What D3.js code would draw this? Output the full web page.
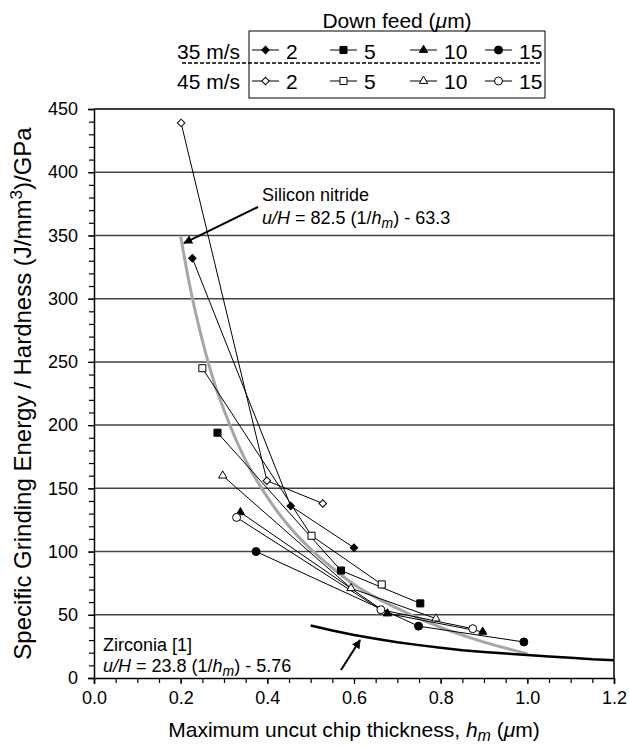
<!DOCTYPE html>
<html><head><meta charset="utf-8">
<script src="https://cdn.jsdelivr.net/npm/d3@7"></script>
<style>body{margin:0;background:#fff} text{font-family:"Liberation Sans",Arial,sans-serif;fill:#000}</style>
</head><body><svg id="c" width="629" height="747"></svg>
<script>
// ---- data ----
const feeds = ["2", "5", "10", "15"];
const speeds = ["35 m/s", "45 m/s"];
const xTickVals = [0, 0.2, 0.4, 0.6, 0.8, 1.0, 1.2];
const yTickVals = [0, 50, 100, 150, 200, 250, 300, 350, 400, 450];

// 35 m/s (filled markers)
const x35_2 = [0.227, 0.454, 0.600], y35_2 = [332, 136, 103];
const x35_5 = [0.285, 0.570, 0.753], y35_5 = [194, 85, 59];
const x35_10 = [0.338, 0.677, 0.897], y35_10 = [131, 51, 36.5];
const x35_15 = [0.374, 0.749, 0.992], y35_15 = [100, 41, 28.5];
// 45 m/s (open markers)
const x45_2 = [0.201, 0.399, 0.528], y45_2 = [439, 156, 138];
const x45_5 = [0.250, 0.502, 0.664], y45_5 = [245, 112.5, 74];
const x45_10 = [0.297, 0.593, 0.789], y45_10 = [160, 71, 47];
const x45_15 = [0.329, 0.662, 0.874], y45_15 = [127, 54, 39];

// Silicon nitride fit curve (grey)
const siX = [0.20, 0.22, 0.25, 0.28, 0.30, 0.35, 0.40, 0.45, 0.50, 0.55, 0.60, 0.70, 0.80, 0.90, 1.00];
const siY = [349, 312, 267, 231, 212, 172, 143, 120, 102, 87, 74, 55, 40, 28.4, 19.2];
// Zirconia curve (black)
const zrX = [0.50, 0.55, 0.60, 0.65, 0.70, 0.75, 0.80, 0.85, 0.90, 0.95, 1.00, 1.05, 1.10, 1.15, 1.20];
const zrY = [41.5, 37.5, 34, 31, 28.2, 26, 24, 22, 20.6, 19.4, 18.1, 17.1, 16.1, 14.8, 14.0];

// ---- layout ----
const L = 94, R = 614, T = 109, B = 678;
const svg = d3.select("#c");
const x = d3.scaleLinear().domain([0, 1.2]).range([L, R]);
const y = d3.scaleLinear().domain([0, 450]).range([B, T]);
const FS = 18, TS = 21, YS = 24;

// gridlines
svg.append("g").selectAll("line").data(yTickVals.filter(v => v > 0 && v < 450)).join("line")
  .attr("x1", L).attr("x2", R).attr("y1", d => y(d)).attr("y2", d => y(d))
  .attr("stroke", "#444").attr("stroke-width", 1.5);
// border top/right
svg.append("line").attr("x1", L).attr("x2", R).attr("y1", y(450)).attr("y2", y(450)).attr("stroke", "#000").attr("stroke-width", 1.5);
svg.append("line").attr("x1", R).attr("x2", R).attr("y1", T).attr("y2", B).attr("stroke", "#000").attr("stroke-width", 1.5);

// axes
const xAxis = d3.axisBottom(x).tickValues(xTickVals).tickFormat(d3.format(".1f")).tickSize(6).tickPadding(7);
svg.append("g").attr("transform", `translate(0,${B})`).call(xAxis);
const xMinor = d3.axisBottom(x).tickValues(d3.range(0, 1.2001, 0.05)).tickFormat("").tickSize(5);
svg.append("g").attr("transform", `translate(0,${B})`).call(xMinor).select(".domain").remove();
const yAxis = d3.axisLeft(y).tickValues(yTickVals).tickSize(6).tickPadding(10);
svg.append("g").attr("transform", `translate(${L},0)`).call(yAxis);
const yMinor = d3.axisLeft(y).tickValues(d3.range(0, 451, 10)).tickFormat("").tickSize(5);
svg.append("g").attr("transform", `translate(${L},0)`).call(yMinor).select(".domain").remove();
svg.selectAll(".domain").attr("stroke", "#000").attr("stroke-width", 1.5);
svg.selectAll(".tick line").attr("stroke", "#000").attr("stroke-width", 1.2);
svg.selectAll(".tick text").attr("font-size", FS).attr("font-family", "Liberation Sans, Arial, sans-serif").attr("fill", "#000");

// axis titles
const xt = svg.append("text").attr("x", 354).attr("y", 737).attr("text-anchor", "middle").attr("font-size", TS);
xt.append("tspan").text("Maximum uncut chip thickness, ");
xt.append("tspan").attr("font-style", "italic").text("h");
xt.append("tspan").attr("font-style", "italic").attr("font-size", TS - 5).attr("dy", 4).text("m");
xt.append("tspan").attr("dy", -4).text(" (");
xt.append("tspan").attr("font-style", "italic").text("\u03bc");
xt.append("tspan").text("m)");

const yt = svg.append("text").attr("transform", `translate(31,${(T + B) / 2}) rotate(-90)`).attr("text-anchor", "middle").attr("font-size", YS);
yt.append("tspan").text("Specific Grinding Energy / Hardness (J/mm");
yt.append("tspan").attr("font-size", YS - 7).attr("dy", -9).text("3");
yt.append("tspan").attr("dy", 9).text(")/GPa");

// curves
svg.append("path").datum(d3.zip(siX, siY)).attr("d", d3.line().x(d => x(d[0])).y(d => y(d[1])).curve(d3.curveMonotoneX))
  .attr("fill", "none").attr("stroke", "#a6a6a6").attr("stroke-width", 3);
svg.append("path").datum(d3.zip(zrX, zrY)).attr("d", d3.line().x(d => x(d[0])).y(d => y(d[1])))
  .attr("fill", "none").attr("stroke", "#000").attr("stroke-width", 2.5).attr("stroke-linejoin", "round");

// marker helpers
function markerPath(type) {
  if (type === "diamond") return d3.symbol(d3.symbolSquare, 28)();
  if (type === "square") return d3.symbol(d3.symbolSquare, 50)();
  if (type === "triangle") return d3.symbol(d3.symbolTriangle, 30)();
  return d3.symbol(d3.symbolCircle, 50)();
}
function drawMarker(g, type, filled, cx, cy) {
  g.append("path").attr("d", markerPath(type))
    .attr("transform", `translate(${cx},${cy})` + (type === "diamond" ? " rotate(45)" : ""))
    .attr("fill", filled ? "#000" : "#fff").attr("stroke", "#000").attr("stroke-width", 1);
}

const series = [
  {feed: "2", speed: 0, xs: x35_2, ys: y35_2, type: "diamond", filled: true},
  {feed: "5", speed: 0, xs: x35_5, ys: y35_5, type: "square", filled: true},
  {feed: "10", speed: 0, xs: x35_10, ys: y35_10, type: "triangle", filled: true},
  {feed: "15", speed: 0, xs: x35_15, ys: y35_15, type: "circle", filled: true},
  {feed: "2", speed: 1, xs: x45_2, ys: y45_2, type: "diamond", filled: false},
  {feed: "5", speed: 1, xs: x45_5, ys: y45_5, type: "square", filled: false},
  {feed: "10", speed: 1, xs: x45_10, ys: y45_10, type: "triangle", filled: false},
  {feed: "15", speed: 1, xs: x45_15, ys: y45_15, type: "circle", filled: false}
];
const sg = svg.append("g");
series.forEach(s => {
  sg.append("path").datum(d3.zip(s.xs, s.ys)).attr("d", d3.line().x(d => x(d[0])).y(d => y(d[1])))
    .attr("fill", "none").attr("stroke", "#000").attr("stroke-width", 1);
});
series.forEach(s => {
  d3.zip(s.xs, s.ys).forEach(p => drawMarker(sg, s.type, s.filled, x(p[0]), y(p[1])));
});

// annotations
svg.append("defs").append("marker").attr("id", "ah").attr("viewBox", "0 0 10 10").attr("refX", 9).attr("refY", 5)
  .attr("markerWidth", 9).attr("markerHeight", 9).attr("orient", "auto").attr("markerUnits", "userSpaceOnUse")
  .append("path").attr("d", "M0,0 L10,5 L0,10 z").attr("fill", "#000");
svg.append("line").attr("x1", x(0.3785)).attr("y1", y(372.5)).attr("x2", x(0.2077)).attr("y2", y(344))
  .attr("stroke", "#000").attr("stroke-width", 2).attr("marker-end", "url(#ah)");
svg.append("line").attr("x1", x(0.570)).attr("y1", y(6.3)).attr("x2", x(0.614)).attr("y2", y(30))
  .attr("stroke", "#000").attr("stroke-width", 2).attr("marker-end", "url(#ah)");

function eqText(xp, yp, a, b) {
  const t = svg.append("text").attr("x", xp).attr("y", yp).attr("font-size", FS);
  t.append("tspan").attr("font-style", "italic").text("u/H");
  t.append("tspan").text(" = " + a + " (1/");
  t.append("tspan").attr("font-style", "italic").text("h");
  t.append("tspan").attr("font-style", "italic").attr("font-size", FS - 4).attr("dy", 4).text("m");
  t.append("tspan").attr("dy", -4).text(") - " + b);
}
svg.append("text").attr("x", 262).attr("y", 201).attr("font-size", FS).text("Silicon nitride");
eqText(262, 224, "82.5", "63.3");
svg.append("text").attr("x", 103).attr("y", 651).attr("font-size", FS).text("Zirconia [1]");
eqText(103, 672, "23.8", "5.76");

// legend
const lg = svg.append("g");
const lt = lg.append("text").attr("x", 397).attr("y", 28).attr("text-anchor", "middle").attr("font-size", TS);
lt.append("tspan").text("Down feed (");
lt.append("tspan").attr("font-style", "italic").text("\u03bc");
lt.append("tspan").text("m)");
lg.append("rect").attr("x", 249).attr("y", 31).attr("width", 296).attr("height", 67)
  .attr("fill", "none").attr("stroke", "#000").attr("stroke-width", 1);
lg.append("line").attr("x1", 182).attr("x2", 540).attr("y1", 63).attr("y2", 63)
  .attr("stroke", "#000").attr("stroke-width", 1.5).attr("stroke-dasharray", "4,2");
const rowY = [50, 81], rowBase = [59, 89];
speeds.forEach((sp, i) => {
  lg.append("text").attr("x", 240).attr("y", rowBase[i]).attr("text-anchor", "end").attr("font-size", TS).text(sp);
});
const entX = [252, 330, 410, 485];
series.forEach(s => {
  const j = feeds.indexOf(s.feed), r = s.speed;
  const x0 = entX[j];
  lg.append("line").attr("x1", x0).attr("x2", x0 + 27).attr("y1", rowY[r]).attr("y2", rowY[r]).attr("stroke", "#000").attr("stroke-width", 1);
  drawMarker(lg, s.type, s.filled, x0 + 13.5, rowY[r]);
  lg.append("text").attr("x", x0 + 34).attr("y", rowBase[r]).attr("font-size", TS).text(s.feed);
});
</script></body></html>
